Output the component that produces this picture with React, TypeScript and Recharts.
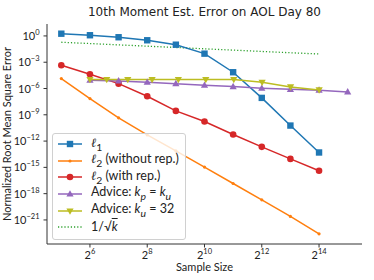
import React from "react";
import {
  ComposedChart,
  Line,
  XAxis,
  YAxis,
  Legend,
} from "recharts";

// sample sizes k (powers of two) and the error of each estimator
const sampleSizes = [32, 64, 128, 256, 512, 1024, 2048, 4096, 8192, 16384];
const l1Error = [1.8, 1.2, 0.71, 0.32, 0.1, 0.0095, 7.2e-5, 8.5e-8, 5.9e-11, 5e-14];
const l2NoRepError = [1.35e-5, 7.1e-8, 4.5e-10, 5.1e-12, 7.8e-14, 1.07e-15, 1.45e-17, 2e-19, 2.5e-21, 2.6e-23];
const l2RepError = [4.6e-4, 4.3e-5, 3.6e-6, 1.3e-7, 2.8e-9, 1.7e-10, 5.6e-12, 2.2e-13, 9.3e-15, 4.1e-16];

const adviceEqSizes = [64, 128, 256, 512, 1024, 2048, 4096, 8192, 16384, 32768];
const adviceEqError = [8.9e-6, 7.4e-6, 5.2e-6, 3.6e-6, 2.4e-6, 1.66e-6, 1.07e-6, 8.1e-7, 6.5e-7, 4.1e-7];

const advice32Sizes = [64, 96, 160, 288, 544, 1056, 2080, 4128, 8224, 16416];
const advice32Error = [1.05e-5, 1.05e-5, 1.05e-5, 1.05e-5, 1.05e-5, 1.05e-5, 1.05e-5, 5.2e-6, 1.5e-6, 6.9e-7];

const invSqrtK = [0.19, 0.135, 0.095, 0.068, 0.048, 0.034, 0.024, 0.017, 0.012, 0.0087];

const xTicks = [64, 256, 1024, 4096, 16384];
const yTicks = [1, 1e-3, 1e-6, 1e-9, 1e-12, 1e-15, 1e-18, 1e-21];

const toPoints = (xs: number[], ys: number[]) =>
  xs.map((x, i) => ({ x, y: ys[i] }));

const FONT = "Lato, 'DejaVu Sans', sans-serif";
const BLUE = "#1f77b4";
const ORANGE = "#ff7f0e";
const RED = "#d62728";
const PURPLE = "#9467bd";
const OLIVE = "#bcbd22";
const GREEN = "#2ca02c";

type Shape = "square" | "dot" | "circle" | "up" | "down" | "none";

function Marker({ cx, cy, shape, color }: { cx: number; cy: number; shape: Shape; color: string }) {
  if (cx == null || cy == null) return null;
  switch (shape) {
    case "square":
      return <rect x={cx - 3.2} y={cy - 3.2} width={6.4} height={6.4} fill={color} />;
    case "dot":
      return <circle cx={cx} cy={cy} r={1.6} fill={color} />;
    case "circle":
      return <circle cx={cx} cy={cy} r={3.3} fill={color} />;
    case "up":
      return (
        <polygon
          points={`${cx},${cy - 3.8} ${cx - 3.6},${cy + 2.6} ${cx + 3.6},${cy + 2.6}`}
          fill={color}
        />
      );
    case "down":
      return (
        <polygon
          points={`${cx},${cy + 3.8} ${cx - 3.6},${cy - 2.6} ${cx + 3.6},${cy - 2.6}`}
          fill={color}
        />
      );
    default:
      return null;
  }
}

const markerDot = (shape: Shape, color: string) => (props: any) =>
  <Marker key={props.index} cx={props.cx} cy={props.cy} shape={shape} color={color} />;

function YTick({ x, y, payload }: any) {
  const exp = Math.round(Math.log10(payload.value));
  return (
    <text x={x} y={y} dy={4} textAnchor="end" fontSize={11} fill="#222" fontFamily={FONT}>
      <tspan>10</tspan>
      <tspan dy={-5} fontSize={7.5}>{exp === 0 ? "0" : "\u2212" + Math.abs(exp)}</tspan>
    </text>
  );
}

function XTick({ x, y, payload }: any) {
  const exp = Math.round(Math.log2(payload.value));
  return (
    <text x={x} y={y} dy={8} textAnchor="middle" fontSize={11} fill="#222" fontFamily={FONT}>
      <tspan>2</tspan>
      <tspan dy={-5} fontSize={7.5}>{exp}</tspan>
    </text>
  );
}

const ell = <span style={{ fontFamily: "'DejaVu Serif', serif", fontStyle: "italic" }}>ℓ</span>;

const legendRows: { shape: Shape; color: string; dashed?: boolean; label: React.ReactNode }[] = [
  { shape: "square", color: BLUE, label: <span>{ell}<sub>1</sub></span> },
  { shape: "dot", color: ORANGE, label: <span>{ell}<sub>2</sub> (without rep.)</span> },
  { shape: "circle", color: RED, label: <span>{ell}<sub>2</sub> (with rep.)</span> },
  { shape: "up", color: PURPLE, label: <span>Advice: <i>k</i><sub><i>p</i></sub> = <i>k</i><sub><i>u</i></sub></span> },
  { shape: "down", color: OLIVE, label: <span>Advice: <i>k</i><sub><i>u</i></sub> = 32</span> },
  { shape: "none", color: GREEN, dashed: true, label: <span>1/√<span style={{ textDecoration: "overline" }}><i>k</i></span></span> },
];

function LegendBox() {
  return (
    <div
      style={{
        background: "rgba(255,255,255,0.8)",
        border: "1px solid #d0d0d0",
        borderRadius: 3,
        padding: "2px 6px 3px 3px",
        fontFamily: FONT,
        fontSize: 12.5,
        color: "#222",
      }}
    >
      {legendRows.map((r, i) => (
        <div key={i} style={{ display: "flex", alignItems: "center", height: 16.6, lineHeight: "16px" }}>
          <svg width={28} height={12} style={{ marginRight: 7 }}>
            <line
              x1={2}
              x2={26}
              y1={6}
              y2={6}
              stroke={r.color}
              strokeWidth={r.dashed ? 1.3 : 1.5}
              strokeDasharray={r.dashed ? "1.2 2" : undefined}
            />
            <Marker cx={14} cy={6} shape={r.shape} color={r.color} />
          </svg>
          {r.label}
        </div>
      ))}
    </div>
  );
}

export default function App() {
  const series = [
    { name: "l1", data: toPoints(sampleSizes, l1Error), color: BLUE, shape: "square" as Shape },
    { name: "l2norep", data: toPoints(sampleSizes, l2NoRepError), color: ORANGE, shape: "dot" as Shape },
    { name: "l2rep", data: toPoints(sampleSizes, l2RepError), color: RED, shape: "circle" as Shape },
    { name: "adviceEq", data: toPoints(adviceEqSizes, adviceEqError), color: PURPLE, shape: "up" as Shape },
    { name: "advice32", data: toPoints(advice32Sizes, advice32Error), color: OLIVE, shape: "down" as Shape },
  ];

  return (
    <div style={{ position: "absolute", left: 0, top: 0, width: 374, height: 280, background: "#fff" }}>
      <div
        style={{
          position: "absolute",
          left: 47,
          width: 315,
          top: 5,
          textAlign: "center",
          fontFamily: "'DejaVu Sans', sans-serif",
          fontSize: 12,
          color: "#222",
        }}
      >
        10th Moment Est. Error on AOL Day 80
      </div>
      <ComposedChart
        width={374}
        height={280}
        margin={{ top: 24, right: 12, bottom: 0, left: 0 }}
        style={{ position: "absolute", left: 0, top: 0 }}
      >
        <XAxis
          xAxisId="main"
          dataKey="x"
          type="number"
          scale="log"
          domain={[22.63, 46341]}
          allowDataOverflow
          ticks={xTicks}
          tick={<XTick />}
          tickSize={3.5}
          tickMargin={3}
          height={36}
          stroke="#333"
          label={{
            value: "Sample Size",
            position: "insideBottom",
            offset: 9,
            fontSize: 11,
            fontFamily: FONT,
            fill: "#222",
          }}
        />
        <XAxis xAxisId="top" orientation="top" type="number" domain={[0, 1]} tick={false} tickLine={false} height={0} stroke="#333" />
        <YAxis
          yAxisId="main"
          type="number"
          scale="log"
          domain={[1.8e-24, 23]}
          allowDataOverflow
          ticks={yTicks}
          tick={<YTick />}
          tickSize={3.5}
          tickMargin={4}
          width={47}
          stroke="#333"
          label={{
            content: () => (
              <text
                x={10.5}
                y={134}
                transform="rotate(-90 10.5 134)"
                textAnchor="middle"
                fontSize={11}
                fontFamily={FONT}
                fill="#222"
              >
                Normalized Root Mean Square Error
              </text>
            ),
          }}
        />
        <YAxis yAxisId="right" orientation="right" type="number" domain={[0, 1]} tick={false} tickLine={false} width={0} stroke="#333" />
        <Line
          xAxisId="main"
          yAxisId="main"
          data={toPoints(sampleSizes, invSqrtK)}
          dataKey="y"
          stroke={GREEN}
          strokeWidth={1.3}
          strokeDasharray="1.2 2"
          dot={false}
          activeDot={false}
          isAnimationActive={false}
        />
        {series.map((s) => (
          <Line
            key={s.name}
            xAxisId="main"
            yAxisId="main"
            data={s.data}
            dataKey="y"
            stroke={s.color}
            strokeWidth={1.5}
            dot={markerDot(s.shape, s.color)}
            activeDot={false}
            isAnimationActive={false}
          />
        ))}
        <Legend
          layout="vertical"
          align="center"
          verticalAlign="middle"
          content={() => <LegendBox />}
          wrapperStyle={{ left: 52, top: 133, width: "auto" }}
        />
      </ComposedChart>
    </div>
  );
}
